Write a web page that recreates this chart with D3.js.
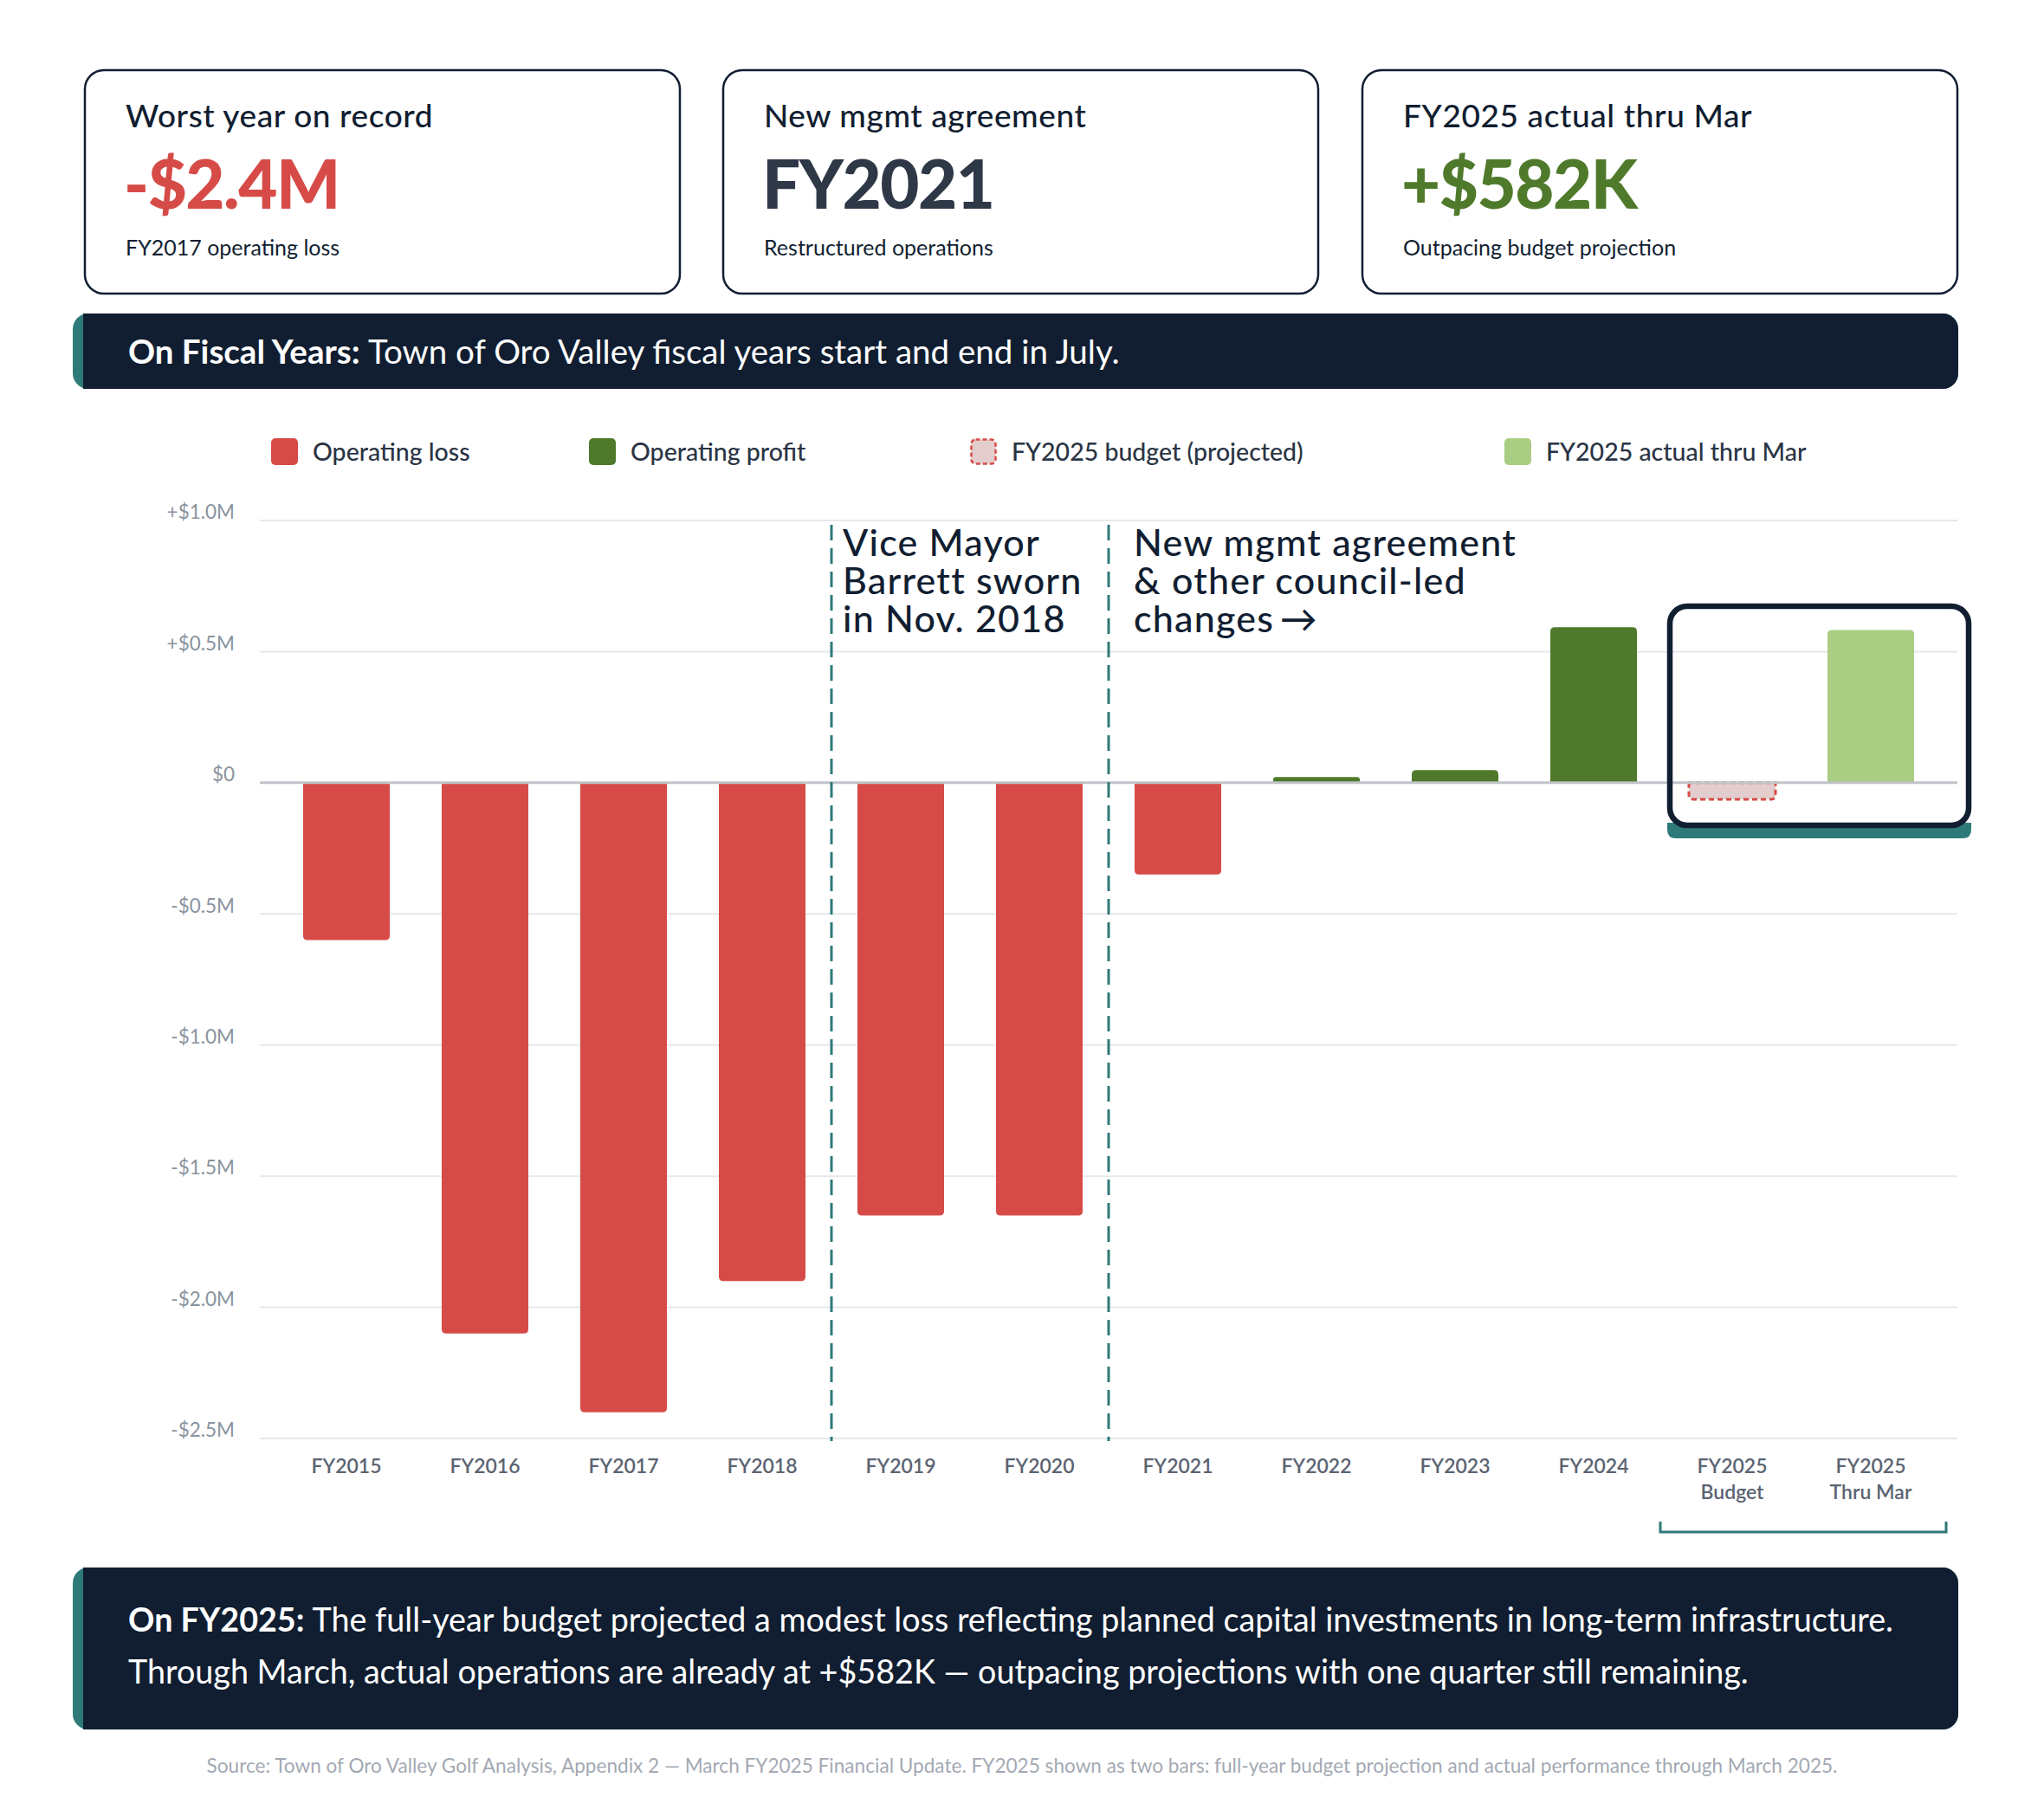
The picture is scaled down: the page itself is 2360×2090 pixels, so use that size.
<!DOCTYPE html>
<html>
<head>
<meta charset="utf-8">
<script src="https://cdn.jsdelivr.net/npm/d3@7"></script>
<style>
  body { margin: 0; background: #ffffff; }
  svg { display: block; font-family: Lato, "Noto Sans", sans-serif; }
</style>
</head>
<body>
<div id="chart"></div>
<script>
// ---- data ----
var categories = ["FY2015", "FY2016", "FY2017", "FY2018", "FY2019", "FY2020",
  "FY2021", "FY2022", "FY2023", "FY2024", "FY2025 Budget", "FY2025 Thru Mar"];
var axisLines = [["FY2015"], ["FY2016"], ["FY2017"], ["FY2018"], ["FY2019"], ["FY2020"],
  ["FY2021"], ["FY2022"], ["FY2023"], ["FY2024"], ["FY2025", "Budget"], ["FY2025", "Thru Mar"]];
// operating result, $M
var values = [-0.6, -2.1, -2.4, -1.9, -1.65, -1.65, -0.35, 0.022, 0.048, 0.593, -0.063, 0.582];
var kinds = ["loss", "loss", "loss", "loss", "loss", "loss", "loss",
  "profit", "profit", "profit", "budget", "actual"];
var yTicks = [1.0, 0.5, 0, -0.5, -1.0, -1.5, -2.0, -2.5];
var yTickLabels = ["+$1.0M", "+$0.5M", "$0", "-$0.5M", "-$1.0M", "-$1.5M", "-$2.0M", "-$2.5M"];

var cardTitles = ["Worst year on record", "New mgmt agreement", "FY2025 actual thru Mar"];
var cardValues = ["-$2.4M", "FY2021", "+$582K"];
var cardNotes = ["FY2017 operating loss", "Restructured operations", "Outpacing budget projection"];

var legendLabels = ["Operating loss", "Operating profit", "FY2025 budget (projected)", "FY2025 actual thru Mar"];
var legendKinds = ["loss", "profit", "budget", "actual"];

var annoVice = ["Vice Mayor", "Barrett sworn", "in Nov. 2018"];
var annoMgmt = ["New mgmt agreement", "& other council-led", "changes\u2009\u2192"];

// ---- styles ----
var navy = "#111e31";
var teal = "#2e7a78";
var red = "#d64b47";
var fills = { loss: red, profit: "#4f7a2b", budget: "#e3cdcd", actual: "#a9cd82" };
var cardColors = [red, "#2e3847", "#4f7a2b"];

var width = 2360;
var height = 2090;

var svg = d3.select("#chart").append("svg")
  .attr("width", width)
  .attr("height", height);

svg.append("rect").attr("width", width).attr("height", height).attr("fill", "#fff");

// ---- KPI cards ----
var cardX = [98, 835, 1573];
var cardW = 687;
cardX.forEach(function(x, i) {
  var g = svg.append("g").attr("transform", "translate(" + x + ",81)");
  g.append("rect")
    .attr("x", 0).attr("y", 0)
    .attr("width", cardW).attr("height", 258)
    .attr("rx", 22)
    .attr("fill", "#fff")
    .attr("stroke", navy)
    .attr("stroke-width", 2.5);
  g.append("text").attr("x", 47).attr("y", 66)
    .attr("font-size", 37).attr("font-weight", 500).attr("fill", navy)
    .attr("letter-spacing", 0.6)
    .text(cardTitles[i]);
  g.append("text").attr("x", 45).attr("y", 160)
    .attr("font-size", 78).attr("font-weight", 900).attr("fill", cardColors[i])
    .attr("letter-spacing", -1.5)
    .text(cardValues[i]);
  g.append("text").attr("x", 47).attr("y", 214)
    .attr("font-size", 25).attr("fill", navy)
    .text(cardNotes[i]);
});

// ---- banners ----
function banner(y, h) {
  svg.append("rect").attr("x", 84).attr("y", y).attr("width", 2261 - 84).attr("height", h)
    .attr("rx", 18).attr("fill", teal);
  svg.append("rect").attr("x", 96).attr("y", y).attr("width", 2261 - 96).attr("height", h)
    .attr("rx", 18).attr("fill", navy);
  svg.append("rect").attr("x", 96).attr("y", y).attr("width", 40).attr("height", h)
    .attr("fill", navy);
}

banner(362, 87);
var t1 = svg.append("text").attr("x", 148).attr("y", 420)
  .attr("font-size", 38.5).attr("fill", "#fff");
t1.append("tspan").attr("font-weight", 700).text("On Fiscal Years: ");
t1.append("tspan").text("Town of Oro Valley fiscal years start and end in July.");

banner(1810, 187);
var t2 = svg.append("text").attr("x", 148).attr("y", 1884)
  .attr("font-size", 37.7).attr("fill", "#fff");
t2.append("tspan").attr("font-weight", 700).text("On FY2025: ");
t2.append("tspan").text("The full-year budget projected a modest loss reflecting planned capital investments in long-term infrastructure.");
svg.append("text").attr("x", 148).attr("y", 1944)
  .attr("font-size", 37.7).attr("fill", "#fff")
  .text("Through March, actual operations are already at +$582K \u2014 outpacing projections with one quarter still remaining.");

// ---- legend ----
var legendX = [313, 680, 1120, 1737];
legendKinds.forEach(function(k, i) {
  var g = svg.append("g").attr("transform", "translate(" + legendX[i] + ",506)");
  var sw = g.append("rect").attr("width", 31).attr("height", 31).attr("rx", 5)
    .attr("fill", fills[k]);
  if (k === "budget") {
    sw.attr("x", 1.5).attr("y", 1.5).attr("width", 28).attr("height", 28)
      .attr("stroke", red).attr("stroke-width", 2.5).attr("stroke-dasharray", "5 3");
  }
  g.append("text").attr("x", 48).attr("y", 26)
    .attr("font-size", 28.5).attr("font-weight", 500).attr("fill", "#2a3444")
    .text(legendLabels[i]);
});

// ---- scales ----
var x = d3.scaleBand()
  .domain(categories)
  .range([320, 2240])
  .paddingInner(0.375)
  .paddingOuter(0.1875);

var y = d3.scaleLinear()
  .domain([-2.5, 1.0])
  .range([1661, 601]);

// gridlines
svg.append("g").selectAll("line")
  .data(yTicks.filter(function(d) { return d !== 0; }))
  .enter().append("line")
  .attr("x1", 300).attr("x2", 2260)
  .attr("y1", function(d) { return y(d); })
  .attr("y2", function(d) { return y(d); })
  .attr("stroke", "#e6e8eb").attr("stroke-width", 2);

// y axis labels
var yAxis = d3.axisLeft(y)
  .tickValues(yTicks)
  .tickSize(0)
  .tickPadding(0)
  .tickFormat(function(d, i) { return yTickLabels[i]; });

var yG = svg.append("g")
  .attr("transform", "translate(271,0)")
  .call(yAxis);
yG.select(".domain").remove();
yG.selectAll("text")
  .attr("dy", "-0.1em")
  .attr("font-family", "Lato, sans-serif")
  .attr("font-size", 22.5)
  .attr("fill", "#8a939e");

// bars: rounded at the far end only
function barPath(d, i) {
  var x0 = x(categories[i]);
  var w = x.bandwidth();
  var y0 = y(0);
  var y1 = y(d);
  var h = Math.abs(y1 - y0);
  var r = Math.min(5, h / 2, w / 2);
  if (d >= 0) {
    return "M" + x0 + "," + y0 + "V" + (y1 + r) +
      "Q" + x0 + "," + y1 + " " + (x0 + r) + "," + y1 +
      "H" + (x0 + w - r) +
      "Q" + (x0 + w) + "," + y1 + " " + (x0 + w) + "," + (y1 + r) +
      "V" + y0 + "Z";
  }
  return "M" + x0 + "," + y0 + "V" + (y1 - r) +
    "Q" + x0 + "," + y1 + " " + (x0 + r) + "," + y1 +
    "H" + (x0 + w - r) +
    "Q" + (x0 + w) + "," + y1 + " " + (x0 + w) + "," + (y1 - r) +
    "V" + y0 + "Z";
}

svg.append("g").selectAll("path")
  .data(values)
  .enter().append("path")
  .attr("d", barPath)
  .attr("fill", function(d, i) { return fills[kinds[i]]; })
  .attr("stroke", function(d, i) { return kinds[i] === "budget" ? red : "none"; })
  .attr("stroke-width", 3)
  .attr("stroke-dasharray", "6 4");

// zero line
svg.append("line")
  .attr("x1", 300).attr("x2", 2260)
  .attr("y1", y(0)).attr("y2", y(0))
  .attr("stroke", "#c0c4c9").attr("stroke-width", 3);

// x axis labels
var xG = svg.append("g");
axisLines.forEach(function(lines, i) {
  var cx = x(categories[i]) + x.bandwidth() / 2;
  var t = xG.append("text")
    .attr("x", cx).attr("y", 1701)
    .attr("text-anchor", "middle")
    .attr("font-size", 23).attr("font-weight", 600).attr("fill", "#5b6472");
  lines.forEach(function(l, j) {
    t.append("tspan").attr("x", cx).attr("dy", j === 0 ? 0 : 30).text(l);
  });
});

// bracket under FY2025 pair
svg.append("path")
  .attr("d", "M1917,1757V1769H2247V1757")
  .attr("fill", "none").attr("stroke", teal).attr("stroke-width", 3);

// event markers
var markerX = [
  (x("FY2018") + x.bandwidth() + x("FY2019")) / 2,
  (x("FY2020") + x.bandwidth() + x("FY2021")) / 2
];
svg.append("g").selectAll("line")
  .data(markerX)
  .enter().append("line")
  .attr("x1", function(d) { return d; })
  .attr("x2", function(d) { return d; })
  .attr("y1", 606).attr("y2", 1664)
  .attr("stroke", teal).attr("stroke-width", 3)
  .attr("stroke-dasharray", "18 9");

// one text per line so the lines stay separate
function annotate(lines, x0) {
  var g = svg.append("g");
  lines.forEach(function(l, j) {
    g.append("text")
      .attr("x", x0).attr("y", 642 + j * 44)
      .attr("font-size", 43).attr("font-weight", 500).attr("fill", navy)
      .attr("letter-spacing", 1.2)
      .text(l);
  });
}
annotate(annoVice, markerX[0] + 13);
annotate(annoMgmt, markerX[1] + 29);

// highlight box around FY2025 pair
var boxX0 = x("FY2025 Budget") - 25;
var boxX1 = x("FY2025 Thru Mar") + x.bandwidth() + 66;
svg.append("path")
  .attr("d", "M" + boxX0 + ",950V958Q" + boxX0 + ",968 " + (boxX0 + 10) + ",968H" +
    (boxX1 - 10) + "Q" + boxX1 + ",968 " + boxX1 + ",958V950Z")
  .attr("fill", teal);
svg.append("rect")
  .attr("x", boxX0 + 3).attr("y", 700)
  .attr("width", boxX1 - boxX0 - 6).attr("height", 253)
  .attr("rx", 20)
  .attr("fill", "none")
  .attr("stroke", navy).attr("stroke-width", 6.5);

// source note
svg.append("text")
  .attr("x", 1180).attr("y", 2047)
  .attr("text-anchor", "middle")
  .attr("font-size", 22.6).attr("fill", "#a3a9b3")
  .text("Source: Town of Oro Valley Golf Analysis, Appendix 2 \u2014 March FY2025 Financial Update. FY2025 shown as two bars: full-year budget projection and actual performance through March 2025.");
</script>
</body>
</html>
